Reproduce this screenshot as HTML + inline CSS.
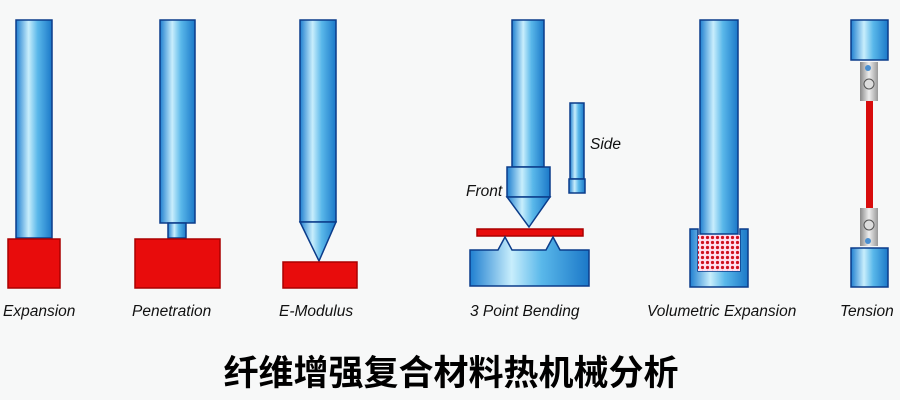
<!DOCTYPE html>
<html><head><meta charset="utf-8"><style>
body{margin:0;background:#f7f8f8;}
svg{display:block}
.l{font-family:"Liberation Sans",sans-serif;font-style:italic;font-size:15.5px;fill:#111}
.t{font-family:"Liberation Sans","Noto Sans CJK SC",sans-serif;font-weight:bold;font-size:35px;fill:#000}
</style></head><body>
<svg width="900" height="400" viewBox="0 0 900 400">
<defs>
<linearGradient id="b" x1="0" x2="1" y1="0" y2="0">
<stop offset="0" stop-color="#1f7fd0"/><stop offset="0.35" stop-color="#c8eefc"/><stop offset="0.6" stop-color="#5ab8ea"/><stop offset="1" stop-color="#1b78c8"/>
</linearGradient>
<linearGradient id="g" x1="0" x2="1"><stop offset="0" stop-color="#888"/><stop offset="0.5" stop-color="#eee"/><stop offset="1" stop-color="#999"/></linearGradient>
<pattern id="d" width="5" height="5" patternUnits="userSpaceOnUse"><rect width="5" height="5" fill="#fde"/><circle cx="2.5" cy="2.5" r="1.6" fill="#d01020"/></pattern>
</defs>
<g stroke="#0b3c8a" stroke-width="1.5">
<rect x="16" y="20" width="36" height="218" fill="url(#b)"/>
<rect x="8" y="239" width="52" height="49" fill="#e80c0c" stroke="#a00"/>
<rect x="160" y="20" width="35" height="203" fill="url(#b)"/>
<rect x="168" y="223" width="18" height="15" fill="url(#b)"/>
<rect x="135" y="239" width="85" height="49" fill="#e80c0c" stroke="#a00"/>
<rect x="300" y="20" width="36" height="202" fill="url(#b)"/>
<path d="M300 222 L336 222 L319 261 Z" fill="url(#b)"/>
<rect x="283" y="262" width="74" height="26" fill="#e80c0c" stroke="#a00"/>
<rect x="512" y="20" width="32" height="147" fill="url(#b)"/>
<rect x="507" y="167" width="43" height="30" fill="url(#b)"/>
<path d="M507 197 L550 197 L529 227 Z" fill="url(#b)"/>
<rect x="477" y="229" width="106" height="7" fill="#e80c0c" stroke="#a00"/>
<path d="M470 250 L498 250 L505 237 L512 250 L546 250 L553 237 L560 250 L589 250 L589 286 L470 286 Z" fill="url(#b)"/>
<rect x="570" y="103" width="14" height="76" fill="url(#b)"/>
<rect x="569" y="179" width="16" height="14" fill="url(#b)"/>
<path d="M690 229 L698 229 L698 271 L740 271 L740 229 L748 229 L748 287 L690 287 Z" fill="url(#b)"/>
<rect x="698" y="235" width="42" height="36" fill="url(#d)" stroke="none"/>
<rect x="700" y="20" width="38" height="214" fill="url(#b)"/>
<rect x="851" y="20" width="37" height="40" fill="url(#b)"/>
<rect x="851" y="248" width="37" height="39" fill="url(#b)"/>
</g>
<rect x="860" y="62" width="18" height="39" fill="url(#g)"/>
<circle cx="868" cy="68" r="3" fill="#4a8fd0"/><circle cx="869" cy="84" r="5" fill="#ddd" stroke="#555"/>
<rect x="866" y="101" width="7" height="107" fill="#d80c0c"/>
<rect x="860" y="208" width="18" height="38" fill="url(#g)"/>
<circle cx="869" cy="225" r="5" fill="#ddd" stroke="#555"/><circle cx="868" cy="241" r="3" fill="#4a8fd0"/>
<text class="l" x="3" y="316">Expansion</text>
<text class="l" x="132" y="316">Penetration</text>
<text class="l" x="279" y="316">E-Modulus</text>
<text class="l" x="470" y="316">3 Point Bending</text>
<text class="l" x="647" y="316">Volumetric Expansion</text>
<text class="l" x="840" y="316">Tension</text>
<text class="l" x="466" y="196">Front</text>
<text class="l" x="590" y="149">Side</text>
<text class="t" x="451" y="385" text-anchor="middle">纤维增强复合材料热机械分析</text>
</svg>
</body></html>
